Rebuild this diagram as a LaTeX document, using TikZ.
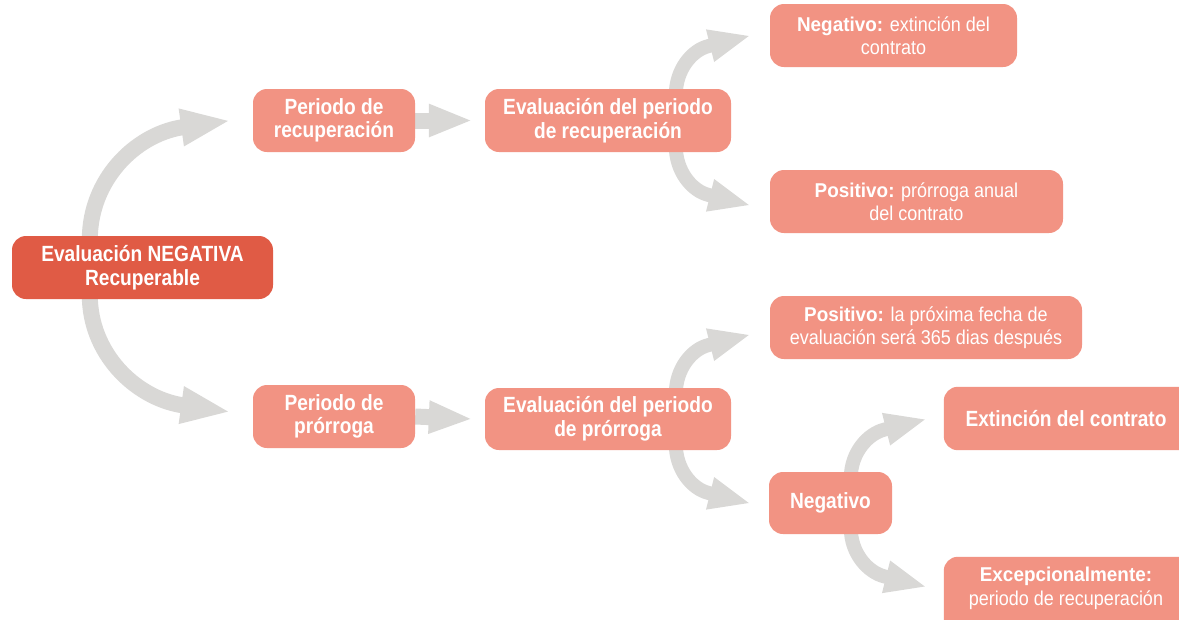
\documentclass[tikz,border=0pt]{standalone}
\usepackage{fontspec}
\usetikzlibrary{arrows.meta,calc}
\newfontfamily\regf{Liberation Sans}[FakeStretch=0.90]
\newfontfamily\boldbig{Liberation Sans}[FakeStretch=0.87]
\newfontfamily\boldsm{Liberation Sans}[FakeStretch=0.945]
\newcommand\bt[1]{{\boldsm\bfseries #1}}
\definecolor{boxcol}{HTML}{F29383}
\definecolor{maincol}{HTML}{E05B45}
\definecolor{arrcol}{HTML}{D9D8D6}
\pgfdeclarelayer{bg}
\pgfdeclarelayer{mid}
\pgfsetlayers{bg,mid,main}
\tikzset{
  box/.style={rectangle, rounded corners=14pt, fill=boxcol, text=white, align=center,
    inner sep=0pt, minimum height=63pt},
  boldtext/.style={font=\boldbig\bfseries\fontsize{22}{23.5}\selectfont},
  mixtext/.style={font=\regf\fontsize{20}{23.5}\selectfont},
  mainbox/.style={box, fill=maincol},
  bigarrow/.style={draw=arrcol, line width=16pt, -{Triangle[length=50pt,width=34pt]}},
  midarrow/.style={draw=arrcol, line width=16pt, -{Triangle[length=44pt,width=30pt]}},
  smallarrow/.style={draw=arrcol, line width=14pt, -{Triangle[length=42pt,width=30pt]}}
}
\begin{document}
\begin{tikzpicture}[x=1pt,y=-1pt]
\useasboundingbox (0,0) rectangle (1179,619);
\clip (0,0) rectangle (1179,619);
% nodes
\node[mainbox, boldtext, minimum width=261pt] (main) at (142.5,267.5) {Evaluación NEGATIVA\\Recuperable};
\node[box, boldtext, minimum width=162pt] (pr) at (334,120.5) {Periodo de\\recuperación};
\node[box, boldtext, minimum width=162pt] (pp) at (334,416.5) {Periodo de\\prórroga};
\node[box, boldtext, minimum width=246pt] (er) at (608,120.5) {Evaluación del periodo\\de recuperación};
\node[box, boldtext, minimum width=246pt, minimum height=62pt] (ep) at (608,419) {Evaluación del periodo\\de prórroga};
\node[box, mixtext, minimum width=247pt] (neg1) at (893.5,35.5) {\bt{Negativo:} extinción del\\contrato};
\node[box, mixtext, minimum width=293pt] (pos1) at (916.5,201.5) {\bt{Positivo:} prórroga anual\\del contrato};
\node[box, mixtext, minimum width=312pt] (pos2) at (926,327.5) {\bt{Positivo:} la próxima fecha de\\evaluación será 365 dias después};
\node[box, boldtext, minimum width=123pt, minimum height=62pt] (negb) at (830.5,503) {Negativo};
\node[box, boldtext, fill=none, minimum width=244pt] (ext) at (1066,418.5) {Extinción del contrato};
\node[box, mixtext, fill=none, minimum width=244pt] (exc) at (1066,588.5) {\bt{Excepcionalmente:}\\periodo de recuperación};
\begin{pgfonlayer}{mid}
\fill[boxcol, rounded corners=14pt] (ext.north west) rectangle ($(ext.south east)+(30,0)$);
\fill[boxcol, rounded corners=14pt] (exc.north west) rectangle ($(exc.south east)+(30,12)$);
\end{pgfonlayer}
% arrows
\begin{pgfonlayer}{bg}
\draw[bigarrow] ($(main.north west)+(78,4)$) .. controls +(0,-60) and +(-46,8) .. ($(pr.west)+(-72,7)$) -- ($(pr.west)+(-22,0)$);
\draw[bigarrow] ($(main.south west)+(78,-4)$) .. controls +(0,58) and +(-46,-8) .. ($(pp.west)+(-72,-11.5)$) -- ($(pp.west)+(-22,-4.5)$);
\draw[midarrow] (pr.east) -- ($(er.west)+(-12,0)$);
\draw[midarrow] (pp.east) -- ($(ep.west)+(-12,0)$);
% from er
\draw[smallarrow] ($(er.north west)+(191,6)$) .. controls +(0,-25) and +(-17,4) .. ($(neg1.west)+(-61,10.5)$) -- ($(neg1.west)+(-19,0)$);
\draw[smallarrow] ($(er.south west)+(191,-6)$) .. controls +(0,25) and +(-17,-4) .. ($(pos1.west)+(-61,-6.5)$) -- ($(pos1.west)+(-19,4)$);
% from ep
\draw[smallarrow] ($(ep.north west)+(191,6)$) .. controls +(0,-25) and +(-17,4) .. ($(pos2.west)+(-61,17.5)$) -- ($(pos2.west)+(-19,7)$);
\draw[smallarrow] ($(ep.south west)+(191,-6)$) .. controls +(0,25) and +(-17,-4) .. ($(negb.west)+(-60,-10)$) -- ($(negb.west)+(-18,0.5)$);
% from negb
\draw[smallarrow] ($(negb.north west)+(82,6)$) .. controls +(0,-25) and +(-17,4) .. ($(ext.west)+(-59,11)$) -- ($(ext.west)+(-17,0.5)$);
\draw[smallarrow] ($(negb.south west)+(82,-6)$) .. controls +(0,25) and +(-17,-4) .. ($(exc.west)+(-59,-12)$) -- ($(exc.west)+(-17,-1.5)$);
\end{pgfonlayer}
\end{tikzpicture}
\end{document}
